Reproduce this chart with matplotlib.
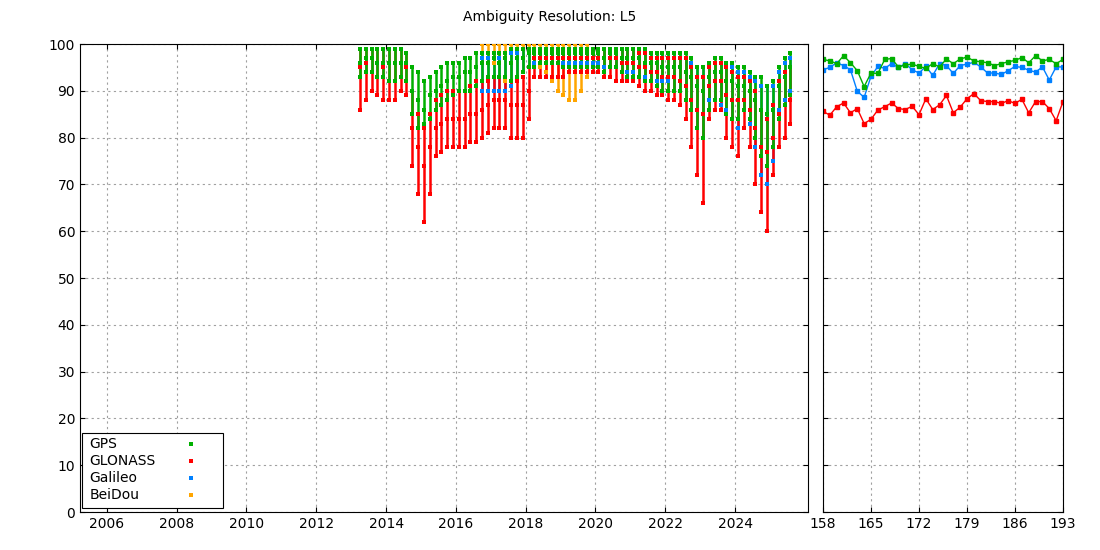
import numpy as np
import matplotlib
matplotlib.use("Agg")
from matplotlib import pyplot as plt
from matplotlib.patches import Rectangle

# bimonthly sample dates (decimal years)
t_main = 2013.25 + np.arange(75) / 6.0
t_gal = 2016.75 + np.arange(54) / 6.0
t_bds = 2016.75 + np.arange(19) / 6.0

gps_hi = [99,99,99,99,99,99, 99,99,98,95,94,92, 93,94,95,96,96,96, 97,97,98,98,98,98,
          98,98,99,99,99,99, 99,99,99,99,99,99, 99,99,99,99,99,99, 99,99,99,99,99,99,
          99,99,98,98,98,98, 98,98,98,97,95,95, 96,97,97,96,96,95, 95,94,93,93,91,92, 95,97,98]
gps_mid = [96,97,97,96,96,96, 96,96,96,90,88,86, 89,90,91,92,93,93, 94,94,95,96,96,97,
           96,97,96,97,97,98, 98,98,98,98,98,98, 98,98,98,98,98,98, 97,98,98,97,97,97,
           97,96,96,96,95,95, 95,95,94,93,91,90, 93,94,94,92,92,91, 91,90,88,86,85,86, 91,93,95]
gps_lo = [93,94,94,93,93,92, 92,93,92,85,82,83, 84,86,87,88,89,90, 90,90,91,92,93,93,
          93,93,92,93,94,95, 95,96,96,96,96,95, 95,95,95,95,95,95, 94,95,95,94,93,93,
          93,92,92,91,90,90, 90,90,88,86,82,80, 86,88,88,85,84,84, 86,84,80,76,74,78, 84,87,89]

glo_hi = [99,99,99,99,99,99, 99,99,98,90,85,82, 85,88,89,90,90,90, 90,91,92,92,92,93,
          93,93,92,92,93,95, 99,99,99,99,99,99, 99,99,99,99,99,99, 99,99,99,99,99,99,
          98,98,97,97,97,97, 97,97,97,95,93,93, 95,96,96,95,94,93, 93,92,90,86,84,87, 92,94,95]
glo_mid = [95,96,97,96,95,96, 96,96,95,82,78,74, 78,82,83,84,84,84, 84,85,85,86,87,88,
           88,88,87,87,87,90, 97,97,97,97,97,97, 97,97,97,97,97,97, 97,97,97,96,96,96,
           95,95,94,94,93,93, 93,92,91,88,86,85, 91,92,92,89,88,88, 88,86,82,78,77,80, 85,87,88]
glo_lo = [86,88,90,89,88,88, 88,90,89,74,68,62, 68,76,77,78,78,78, 78,79,79,80,81,82,
          82,82,80,80,80,84, 93,93,93,93,93,93, 94,94,94,94,94,94, 93,93,92,92,92,92,
          91,90,90,89,89,88, 88,87,84,78,72,66, 84,86,86,80,78,76, 82,78,70,64,60,72, 78,80,83]

gal_hi = [97,97,97, 97,97,98,98,99,99, 99,99,99,99,99,99, 99,99,99,99,99,99,
          99,99,99,99,99,99, 98,98,98,98,98,98, 98,98,97,96,95,95,
          96,96,96,96,95,94, 94,93,92,91,91,91, 94,96,97]
gal_lo = [90,90,90, 90,90,91,92,94,95, 96,96,96,96,96,96, 96,96,96,96,96,96,
          95,95,95,94,94,94, 93,93,92,92,92,92, 90,90,88,86,82,80,
          88,88,87,86,84,82, 86,83,78,72,70,75, 86,88,90]

bds_hi = [100,100,100, 100,100,100,100,100,100, 100,100,100,100,100,100, 100,100,100,100]
bds_lo = [96,96,96, 93,92,91,92,94,95, 95,95,94,92,90,89, 88,88,90,93]

# last 36 days (day of year)
doy = np.arange(158, 194)
gps_day = [96.7,96.4,95.8,97.5,96.0,94.3,90.9,93.8,93.7,96.7,96.9,95.1,95.5,95.7,95.2,94.8,
           95.8,95.1,96.8,95.8,96.8,97.2,96.4,96.2,96.0,95.4,95.8,96.2,96.5,97.1,96.0,97.5,
           96.4,96.7,95.8,96.7]
glo_day = [85.6,84.8,86.6,87.4,85.3,86.2,83.0,83.9,85.9,86.6,87.4,86.2,86.0,86.7,84.9,88.3,
           86.0,87.0,89.0,85.3,86.5,88.3,89.4,87.9,87.7,87.7,87.3,87.9,87.3,88.2,85.3,87.7,
           87.7,86.2,83.6,87.7]
gal_day = [94.5,95.0,96.0,95.4,94.5,89.9,88.6,93.1,95.2,94.8,95.8,95.0,95.8,94.5,93.8,95.2,
           93.3,95.8,95.4,93.7,95.4,95.7,96.1,95.1,93.8,93.8,93.5,94.3,95.2,95.0,94.4,94.0,
           95.1,92.3,95.1,95.1]

C_GPS, C_GLO, C_GAL, C_BDS = "#00b000", "#ff0000", "#0080ff", "#ffa500"

fig = plt.figure(figsize=(11, 5.5), dpi=100)
ax = fig.add_axes([80/1100, 38/550, 728/1100, 468/550])
ax2 = fig.add_axes([823/1100, 38/550, 240/1100, 468/550])
fig.text(0.5, 1 - 17/550, "Ambiguity Resolution: L5", ha="center", va="center", fontsize=10)

series = [(t_bds, bds_hi, None, bds_lo, C_BDS),
          (t_gal, gal_hi, None, gal_lo, C_GAL),
          (t_main, glo_hi, glo_mid, glo_lo, C_GLO),
          (t_main, gps_hi, gps_mid, gps_lo, C_GPS)]
for t, hi, mid, lo, c in series:
    ax.vlines(t, lo, hi, colors=c, linewidth=1.8, zorder=2)
    pts = [hi, lo] + ([mid] if mid is not None else [])
    for p in pts:
        ax.scatter(t, p, s=7, marker="s", color=c, linewidths=0, zorder=3)

ax.set_xlim(2005.23, 2026.09)
ax.set_ylim(0, 100)
ax.set_xticks(range(2006, 2026, 2))
ax.set_yticks(range(0, 101, 10))
ax.grid(True, color="#a0a0a0", linestyle=(0, (2, 3)), linewidth=0.8)
ax.set_axisbelow(True)
ax.tick_params(direction="in", top=True, right=True, labelsize=10)

# gnuplot-style key: text left, marker right
names = ["GPS", "GLONASS", "Galileo", "BeiDou"]
colors = [C_GPS, C_GLO, C_GAL, C_BDS]
ax.add_patch(Rectangle((0.003, 0.008), 0.193, 0.16, transform=ax.transAxes,
                       facecolor="white", edgecolor="black", linewidth=0.8, zorder=5))
for i, (n, c) in enumerate(zip(names, colors)):
    y = 0.146 - i * 0.0365
    ax.text(0.013, y, n, transform=ax.transAxes, va="center", ha="left", fontsize=10, zorder=6)
    ax.scatter([0.152], [y], transform=ax.transAxes, s=8, marker="s", color=c,
               linewidths=0, zorder=6, clip_on=False)

ax2.plot(doy, gal_day, color=C_GAL, marker="s", ms=2.5, lw=1)
ax2.plot(doy, gps_day, color=C_GPS, marker="s", ms=2.5, lw=1)
ax2.plot(doy, glo_day, color=C_GLO, marker="s", ms=2.5, lw=1)
ax2.set_xlim(158, 193)
ax2.set_ylim(0, 100)
ax2.set_xticks(range(158, 194, 7))
ax2.set_yticks(range(0, 101, 10))
ax2.set_yticklabels([])
ax2.grid(True, color="#a0a0a0", linestyle=(0, (2, 3)), linewidth=0.8)
ax2.tick_params(direction="in", top=True, right=True, labelsize=10)

fig.savefig("out.png", dpi=100)
